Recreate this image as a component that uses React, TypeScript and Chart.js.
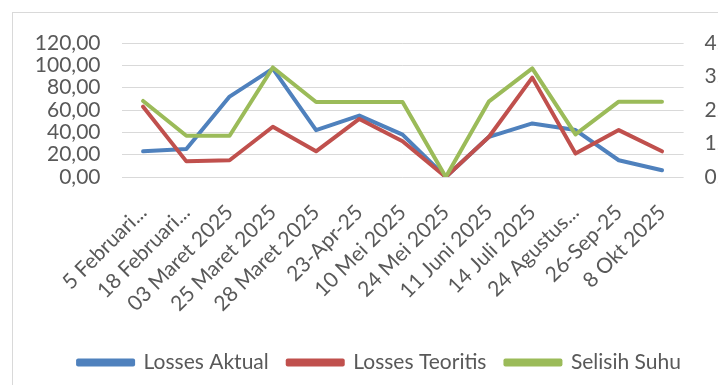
import { useEffect, useRef } from "react";
import { Chart, registerables } from "chart.js";

Chart.register(...registerables);

const categories = [
  "5 Februari...",
  "18 Februari...",
  "03 Maret 2025",
  "25 Maret 2025",
  "28 Maret 2025",
  "23-Apr-25",
  "10 Mei 2025",
  "24 Mei 2025",
  "11 Juni 2025",
  "14 Juli 2025",
  "24 Agustus...",
  "26-Sep-25",
  "8 Okt 2025",
];
const lossesAktual = [23, 25, 72, 97, 42, 55, 38, 0, 36, 48, 42, 15, 6];
const lossesTeoritis = [63, 14, 15, 45, 23, 52, 32, 0, 36, 89, 21, 42, 23];
const selisihSuhu = [2.27, 1.23, 1.23, 3.27, 2.24, 2.24, 2.24, 0, 2.26, 3.24, 1.27, 2.25, 2.25];
const seriesNames = ["Losses Aktual", "Losses Teoritis", "Selisih Suhu"];
const leftTicks = { min: 0, max: 120, step: 20 };
const rightTicks = { min: 0, max: 4, step: 1 };

const FONT = "Lato, 'Open Sans', sans-serif";
const TEXT = "#595959";
const fmt = (v: number) => v.toFixed(2).replace(".", ",");

export default function App() {
  const ref = useRef<HTMLCanvasElement | null>(null);

  useEffect(() => {
    if (!ref.current) return;
    const font = { family: FONT, size: 21 };
    const chart = new Chart(ref.current, {
      type: "line",
      data: {
        labels: categories,
        datasets: [
          {
            label: seriesNames[0],
            data: lossesAktual,
            borderColor: "#4F81BD",
            backgroundColor: "#4F81BD",
            yAxisID: "y",
            order: 3,
          },
          {
            label: seriesNames[1],
            data: lossesTeoritis,
            borderColor: "#C0504D",
            backgroundColor: "#C0504D",
            yAxisID: "y",
            order: 2,
          },
          {
            label: seriesNames[2],
            data: selisihSuhu,
            borderColor: "#9BBB59",
            backgroundColor: "#9BBB59",
            yAxisID: "y1",
            order: 1,
          },
        ],
      },
      options: {
        animation: false,
        responsive: false,
        layout: { padding: { left: 13, top: 43, right: 0, bottom: 2 } },
        elements: {
          line: { borderWidth: 4, tension: 0, borderJoinStyle: "round", borderCapStyle: "round" },
          point: { radius: 0, hoverRadius: 0 },
        },
        plugins: {
          legend: {
            position: "bottom",
            labels: {
              boxWidth: 55,
              boxHeight: 4,
              padding: 19,
              color: TEXT,
              font,
              sort: (a: any, b: any) => a.datasetIndex - b.datasetIndex,
            },
          },
          tooltip: { enabled: false },
        },
        scales: {
          x: {
            offset: true,
            grid: { display: false },
            border: { display: false },
            ticks: {
              autoSkip: false,
              minRotation: 45,
              maxRotation: 45,
              padding: 15,
              color: TEXT,
              font,
            },
            afterFit: (s: any) => {
              s.height = 156;
            },
          },
          y: {
            position: "left",
            min: leftTicks.min,
            max: leftTicks.max,
            ticks: {
              stepSize: leftTicks.step,
              autoSkip: false,
              padding: 21,
              color: TEXT,
              font,
              callback: (v: any) => fmt(Number(v)),
            },
            grid: { color: "#d9d9d9", lineWidth: 1, drawTicks: false },
            border: { display: false },
            afterFit: (s: any) => {
              s.width = 108.5;
            },
          },
          y1: {
            position: "right",
            min: rightTicks.min,
            max: rightTicks.max,
            ticks: {
              stepSize: rightTicks.step,
              autoSkip: false,
              padding: 21,
              color: TEXT,
              font,
              callback: (v: any) => fmt(Number(v)),
            },
            grid: { display: false, drawTicks: false },
            border: { display: false },
            afterFit: (s: any) => {
              s.width = 62.4;
            },
          },
        },
      },
    });
    return () => chart.destroy();
  }, []);

  return (
    <div
      style={{
        position: "fixed",
        left: 0,
        top: 0,
        width: 718,
        height: 385,
        overflow: "hidden",
        background: "#fff",
      }}
    >
      <div
        style={{
          position: "absolute",
          left: 12,
          top: 12,
          width: 740,
          height: 420,
          border: "1px solid #d9d9d9",
        }}
      />
      <div style={{ position: "absolute", left: 0, top: 0, width: 746, height: 385 }}>
        <canvas ref={ref} width={746} height={385} style={{ width: 746, height: 385, display: "block" }} />
      </div>
    </div>
  );
}
